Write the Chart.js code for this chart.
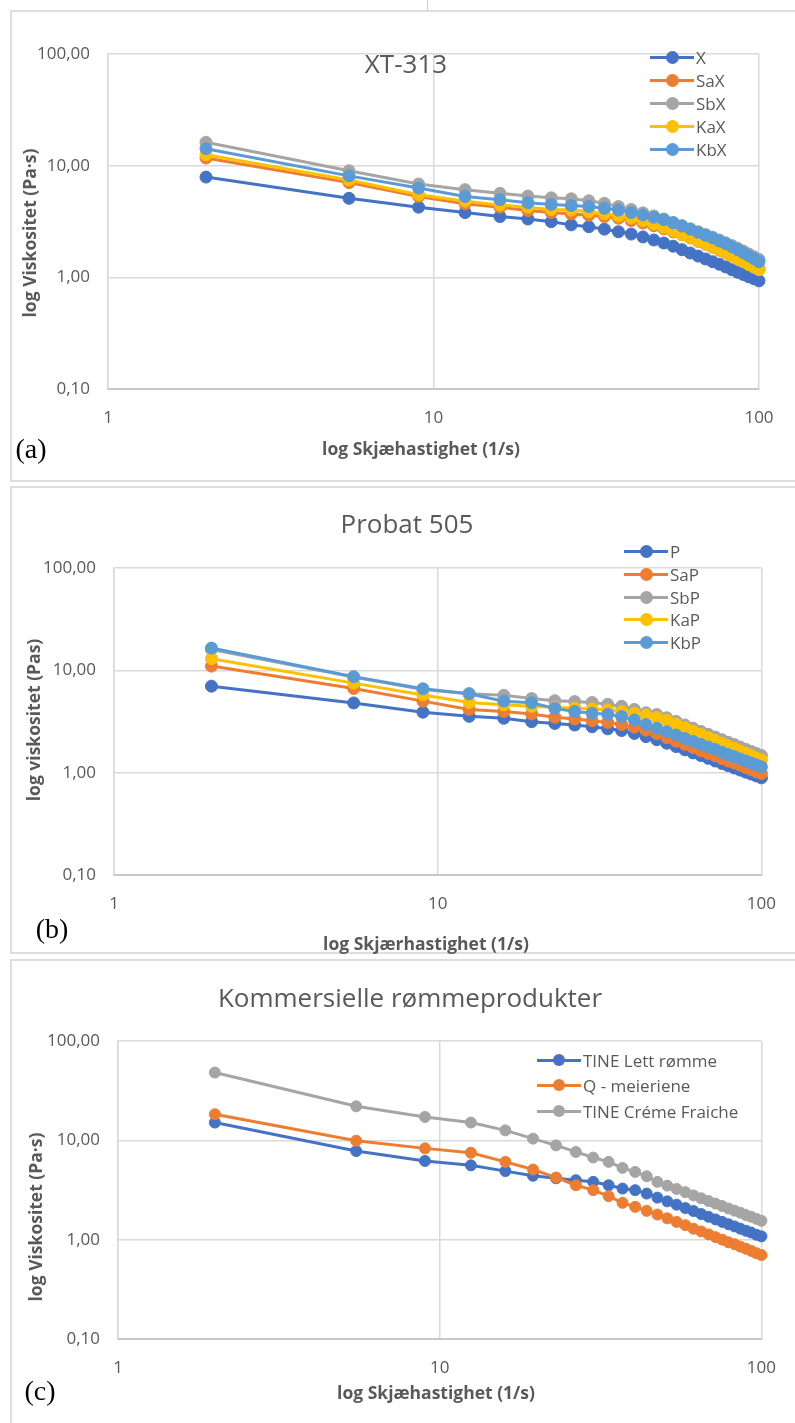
<!DOCTYPE html>
<html>
<head>
<meta charset="utf-8">
<script src="https://cdn.jsdelivr.net/npm/chart.js@4.4.1/dist/chart.umd.min.js"></script>
<style>
  body{margin:0;background:#fff;}
  #page{position:relative;width:795px;height:1423px;overflow:hidden;font-family:"Open Sans",sans-serif;}
  .box{position:absolute;border:2px solid #dedede;box-sizing:border-box;}
  canvas{position:absolute;left:0;}
  .t{position:absolute;white-space:nowrap;transform:translate(-50%,-50%);color:#595959;}
  .title{font-size:26px;}
  .axt{font-size:17.5px;font-weight:bold;}
  .yt{transform:translate(-50%,-50%) rotate(-90deg);}
  .tag{font-family:"Liberation Serif",serif;font-size:28px;color:#000;}
  .leg{position:absolute;height:20px;display:flex;align-items:center;transform:translateY(-50%);font-size:17px;color:#595959;white-space:nowrap;}
  .leg .sw{position:relative;width:44px;height:20px;margin-right:2px;}
  .leg .ln{position:absolute;left:0;right:0;top:8.5px;height:3px;}
  .leg .dt{position:absolute;border-radius:50%;}
</style>
</head>
<body>
<div id="page">
  <div class="box" style="left:10px;top:10px;width:800px;height:472px"></div>
  <div class="box" style="left:10px;top:486px;width:800px;height:468px"></div>
  <div class="box" style="left:10px;top:959px;width:800px;height:480px"></div>
  <div style="position:absolute;left:427px;top:0;width:1px;height:10px;background:#cfcfcf"></div>
  <canvas id="chartA" width="795" height="482" style="top:0px"></canvas>
  <canvas id="chartB" width="795" height="474" style="top:482px"></canvas>
  <canvas id="chartC" width="795" height="467" style="top:956px"></canvas>
</div>
<script>
// shear rate (1/s), shared by all three panels
const shearRate = [2, 5.5, 9, 12.5, 16, 19.5, 23, 26.5, 30, 33.5, 37, 40.5, 44, 47.5, 51,
  54.5, 58, 61.5, 65, 68.5, 72, 75.5, 79, 82.5, 86, 89.5, 93, 96.5, 100];
const xTicks = [1, 10, 100];
const yTicks = [0.1, 1, 10, 100];

// (a) XT-313
const xtLabels = ["X", "SaX", "SbX", "KaX", "KbX"];
const xtX   = [7.9, 5.1, 4.25, 3.8, 3.5, 3.33, 3.15, 2.95, 2.84, 2.7, 2.56, 2.44, 2.3, 2.16, 2.03, 1.9, 1.77, 1.65, 1.55, 1.46, 1.38, 1.31, 1.24, 1.17, 1.11, 1.06, 1.01, 0.97, 0.93];
const xtSaX = [11.7, 7.05, 5.3, 4.55, 4.25, 3.96, 3.8, 3.7, 3.6, 3.5, 3.38, 3.22, 3.06, 2.9, 2.72, 2.55, 2.4, 2.25, 2.1, 1.98, 1.86, 1.75, 1.65, 1.55, 1.46, 1.38, 1.31, 1.25, 1.19];
const xtSbX = [16.2, 9.0, 6.85, 6.1, 5.65, 5.35, 5.15, 5.05, 4.85, 4.6, 4.3, 4.05, 3.78, 3.55, 3.33, 3.1, 2.9, 2.72, 2.56, 2.42, 2.29, 2.16, 2.04, 1.93, 1.82, 1.72, 1.62, 1.53, 1.45];
const xtKaX = [12.5, 7.45, 5.5, 4.8, 4.45, 4.25, 4.05, 4.0, 3.87, 3.7, 3.55, 3.4, 3.22, 3.0, 2.8, 2.6, 2.42, 2.27, 2.12, 2.0, 1.88, 1.77, 1.66, 1.56, 1.46, 1.38, 1.3, 1.23, 1.17];
const xtKbX = [14.2, 8.1, 6.3, 5.3, 4.95, 4.65, 4.5, 4.4, 4.3, 4.15, 4.0, 3.8, 3.62, 3.45, 3.28, 3.08, 2.88, 2.7, 2.53, 2.38, 2.25, 2.12, 2.0, 1.88, 1.77, 1.66, 1.56, 1.47, 1.38];

// (b) Probat 505
const prLabels = ["P", "SaP", "SbP", "KaP", "KbP"];
const prP   = [7.0, 4.8, 3.9, 3.55, 3.4, 3.15, 3.03, 2.92, 2.81, 2.68, 2.58, 2.42, 2.25, 2.1, 1.94, 1.8, 1.67, 1.56, 1.47, 1.38, 1.3, 1.23, 1.17, 1.11, 1.06, 1.01, 0.97, 0.93, 0.89];
const prSaP = [11.0, 6.65, 5.0, 4.15, 3.95, 3.75, 3.48, 3.35, 3.22, 3.1, 2.95, 2.78, 2.6, 2.4, 2.2, 2.03, 1.89, 1.76, 1.64, 1.54, 1.46, 1.37, 1.3, 1.24, 1.18, 1.12, 1.07, 1.02, 0.98];
const prSbP = [16.0, 8.6, 6.5, 5.9, 5.7, 5.3, 5.05, 4.95, 4.85, 4.65, 4.45, 4.15, 3.85, 3.7, 3.44, 3.17, 2.93, 2.72, 2.53, 2.37, 2.23, 2.1, 1.98, 1.88, 1.78, 1.69, 1.61, 1.54, 1.47];
const prKaP = [13.0, 7.5, 5.75, 4.85, 4.6, 4.45, 4.35, 4.25, 4.2, 4.1, 3.95, 3.8, 3.65, 3.45, 3.25, 2.98, 2.75, 2.54, 2.36, 2.2, 2.06, 1.93, 1.82, 1.72, 1.63, 1.54, 1.47, 1.39, 1.33];
const prKbP = [16.5, 8.65, 6.6, 5.9, 5.0, 4.82, 4.25, 3.95, 3.8, 3.72, 3.54, 3.27, 2.95, 2.72, 2.51, 2.33, 2.16, 2.02, 1.89, 1.78, 1.68, 1.58, 1.5, 1.43, 1.36, 1.3, 1.24, 1.19, 1.14];

// (c) Kommersielle rømmeprodukter
const komLabels = ["TINE Lett rømme", "Q - meieriene", "TINE Créme Fraiche"];
const tineLett   = [15.1, 7.8, 6.2, 5.6, 4.9, 4.4, 4.15, 3.97, 3.82, 3.53, 3.27, 3.15, 2.91, 2.65, 2.43, 2.25, 2.08, 1.94, 1.81, 1.7, 1.6, 1.51, 1.43, 1.36, 1.29, 1.23, 1.18, 1.12, 1.08];
const qMeieriene = [18.3, 9.9, 8.3, 7.5, 6.07, 5.08, 4.22, 3.53, 3.15, 2.74, 2.35, 2.14, 1.95, 1.79, 1.64, 1.51, 1.4, 1.29, 1.21, 1.13, 1.06, 1.0, 0.94, 0.9, 0.85, 0.81, 0.77, 0.73, 0.7];
const tineCreme  = [48.1, 22.0, 17.2, 15.1, 12.6, 10.4, 8.9, 7.64, 6.71, 6.07, 5.28, 4.81, 4.35, 3.82, 3.5, 3.24, 3.01, 2.79, 2.61, 2.45, 2.31, 2.18, 2.06, 1.96, 1.87, 1.77, 1.7, 1.62, 1.55];

const excelColors = ["#4472C4", "#ED7D31", "#A5A5A5", "#FFC000", "#5B9BD5"];
const TXT = "#595959";
const page = document.getElementById("page");

Chart.defaults.font.family = '"Open Sans", sans-serif';

function addText(txt, x, y, cls) {
  const d = document.createElement("div");
  d.className = "t " + cls;
  d.style.left = x + "px";
  d.style.top = y + "px";
  d.textContent = txt;
  page.appendChild(d);
}

function addLegend(labels, colors, x, ys, dot) {
  labels.forEach((lab, i) => {
    const row = document.createElement("div");
    row.className = "leg";
    row.style.left = x + "px";
    row.style.top = ys[i] + "px";
    row.innerHTML = '<span class="sw"><span class="ln" style="background:' + colors[i] + '"></span>' +
      '<span class="dt" style="background:' + colors[i] + ';width:' + dot + 'px;height:' + dot + 'px;top:' + (10 - dot / 2) + 'px;left:' + (22 - dot / 2) + 'px"></span></span>' + lab;
    page.appendChild(row);
  });
}

function makeChart(id, top, height, area, labels, values, radius) {
  const n = labels.length;
  const datasets = labels.map((lab, i) => ({
    label: lab,
    data: shearRate.map((x, k) => ({ x: x, y: values[i][k] })),
    borderColor: excelColors[i],
    backgroundColor: excelColors[i],
    borderWidth: 3,
    pointRadius: radius,
    pointBorderWidth: 1,
    pointHoverRadius: radius,
    clip: false,
    order: n - i
  }));
  const xh = 40;
  new Chart(document.getElementById(id), {
    type: "line",
    data: { datasets: datasets },
    options: {
      responsive: false,
      animation: false,
      layout: { padding: { left: 0, top: area.t - top, right: 795 - area.r, bottom: height - (area.b - top) - xh } },
      plugins: { legend: { display: false }, tooltip: { enabled: false } },
      scales: {
        x: {
          type: "logarithmic", min: 1, max: 100,
          afterBuildTicks: s => { s.ticks = xTicks.map(v => ({ value: v })); },
          afterFit: s => { s.height = xh; },
          ticks: { callback: v => String(v), color: TXT, font: { size: 17 }, padding: 19, maxRotation: 0, autoSkip: false },
          grid: { color: "#d9d9d9", lineWidth: 1.5, drawTicks: false },
          border: { color: "#c8c8c8", width: 2 }
        },
        y: {
          type: "logarithmic", min: 0.1, max: 100,
          afterBuildTicks: s => { s.ticks = yTicks.map(v => ({ value: v })); },
          afterFit: s => { s.width = area.l; },
          ticks: { callback: v => v.toFixed(2).replace(".", ","), color: TXT, font: { size: 17 }, padding: 18, autoSkip: false },
          grid: { color: "#d9d9d9", lineWidth: 1.5, drawTicks: false },
          border: { color: "#d9d9d9", width: 1.5 }
        }
      }
    }
  });
}

// (a)
makeChart("chartA", 0, 482, { l: 108, r: 759, t: 54, b: 389 }, xtLabels, [xtX, xtSaX, xtSbX, xtKaX, xtKbX], 6);
addText("XT-313", 406, 63, "title");
addText("log Viskositet (Pa·s)", 29, 233, "axt yt");
addText("log Skjæhastighet (1/s)", 421, 448, "axt");
addText("(a)", 31, 449, "tag");
addLegend(xtLabels, excelColors, 650, [57, 80, 103, 126, 149], 13);

// (b)
makeChart("chartB", 482, 474, { l: 114, r: 764, t: 568, b: 875 }, prLabels, [prP, prSaP, prSbP, prKaP, prKbP], 6);
addText("Probat 505", 407, 523, "title");
addText("log viskositet (Pas)", 33, 720, "axt yt");
addText("log Skjærhastighet (1/s)", 426, 943, "axt");
addText("(b)", 52, 929, "tag");
addLegend(prLabels, excelColors, 624, [551, 574, 597, 619, 642], 13);

// (c)
makeChart("chartC", 956, 467, { l: 118, r: 766, t: 1041, b: 1339 }, komLabels, [tineLett, qMeieriene, tineCreme], 5.5);
addText("Kommersielle rømmeprodukter", 410, 997, "title");
addText("log Viskositet (Pa·s)", 35, 1217, "axt yt");
addText("log Skjæhastighet (1/s)", 436, 1392, "axt");
addText("(c)", 40, 1391, "tag");
addLegend(komLabels, excelColors, 537, [1060, 1085, 1111], 12);
</script>
</body>
</html>
